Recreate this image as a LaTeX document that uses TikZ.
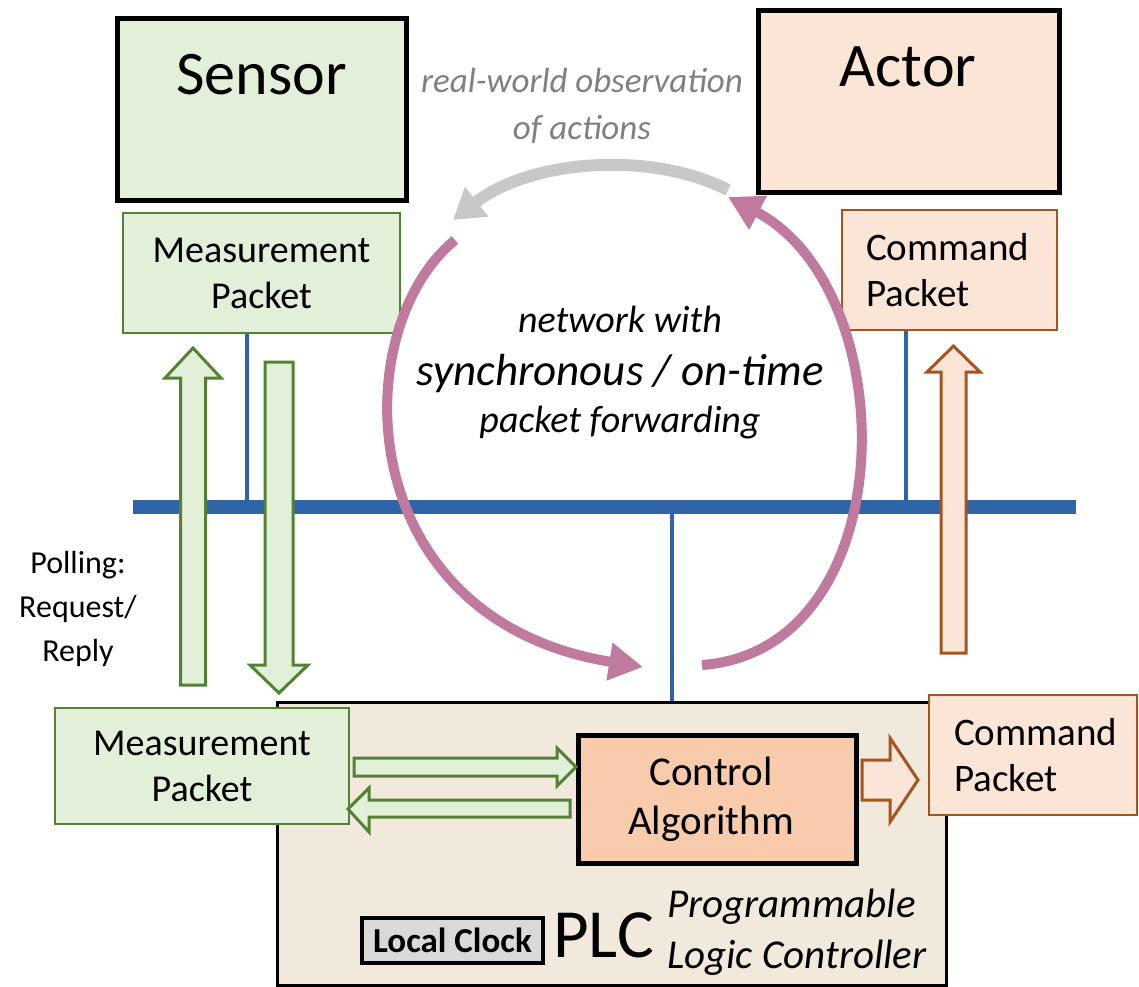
\documentclass[tikz,border=0pt]{standalone}
\usepackage{fontspec}
\setmainfont{Carlito}
\usetikzlibrary{arrows.meta}
\definecolor{busblue}{RGB}{47,100,168}
\definecolor{gfill}{RGB}{226,239,217}
\definecolor{gline}{RGB}{84,130,53}
\definecolor{ofill}{RGB}{251,229,214}
\definecolor{oline}{RGB}{166,84,30}
\definecolor{plcfill}{RGB}{242,233,221}
\definecolor{cafill}{RGB}{248,203,173}
\definecolor{loopink}{RGB}{192,122,158}
\definecolor{lgray}{RGB}{200,200,200}
\definecolor{tgray}{RGB}{128,128,128}
\definecolor{clockfill}{RGB}{217,217,217}
\newcommand\myfs[2]{\fontsize{#1}{#2}\selectfont}
\begin{document}
\begin{tikzpicture}[x=1pt,y=-1pt,
  bigbox/.style={draw=black,line width=5pt,inner sep=0pt},
  gpkt/.style={draw=gline,fill=gfill,line width=2pt,inner sep=0pt,align=center,font={\myfs{38}{46}}},
  opkt/.style={draw=oline,fill=ofill,line width=2pt,inner ysep=0pt,align=left,font={\myfs{39}{46}}},
  gblock/.style={draw=gline,fill=gfill,line width=3pt},
  oblock/.style={draw=oline,fill=ofill,line width=3pt},
  tap/.style={draw=busblue,line width=4pt},
  loopline/.style={draw=loopink,line width=10pt,-{Triangle[length=34pt,width=36pt]}}]
\useasboundingbox (0,0) rectangle (1139,986);
\fill[white] (0,0) rectangle (1139,986);

% PLC
\node[draw=black,line width=3pt,fill=plcfill,minimum width=669pt,minimum height=283pt,inner sep=0pt] (plc) at (611.5,843.5) {};

% bus and taps
\coordinate (busL) at (133,507);
\coordinate (busR) at (1076,507);
\coordinate (tapm) at (247,507);
\coordinate (tapc) at (906,507);
\coordinate (tapp) at (672,507);

% boxes
\node[bigbox,fill=gfill,minimum width=289pt,minimum height=182pt] (sensor) at (261.5,109) {};
\node[bigbox,fill=ofill,minimum width=301pt,minimum height=182pt] (actor) at (908.5,101) {};
\node[gpkt,minimum width=277pt,minimum height=120pt] (mtop) at (261.5,273) {Measurement\\Packet};
\node[opkt,inner xsep=24pt,text width=167pt,minimum height=120pt] (ctop) at (949.5,270) {Command\\Packet};
\node[gpkt,minimum width=294pt,minimum height=116pt] (mbot) at (202,766) {Measurement\\Packet};
\node[opkt,inner xsep=25pt,text width=158pt,minimum height=120pt] (cbot) at (1033,755) {Command\\Packet};
\node[bigbox,fill=cafill,minimum width=278pt,minimum height=128pt,align=center,font={\myfs{41}{49}}] (ctrl) at (717,799) {Control\hspace*{12pt}\\Algorithm\hspace*{12pt}};
\node[draw=black,line width=4pt,fill=clockfill,minimum width=181pt,minimum height=45pt,inner sep=0pt,font={\bfseries\myfs{35}{36}}] (clock) at (452.5,940.5) {Local Clock};

\draw[tap] (tapm |- mtop.south) -- (tapm);
\draw[tap] (tapc |- ctop.south) -- (tapc);
\draw[tap] (tapp) -- (tapp |- plc.north);
\draw[busblue,line width=14pt] (busL) -- (busR);

% block arrows
\draw[gblock] (180.5,685) -- (180.5,378) -- (165,378) -- (193,348) -- (221,378) -- (205.5,378) -- (205.5,685) -- cycle;
\draw[gblock] (265,362) -- (293,362) -- (293,665) -- (308,665) -- (279,693) -- (250,665) -- (265,665) -- cycle;
\draw[oblock] (941,653) -- (941,372) -- (927,372) -- (953.5,346) -- (980,372) -- (966,372) -- (966,653) -- cycle;
\draw[gblock] (354,758) -- (557,758) -- (557,748) -- (576,767) -- (557,786) -- (557,776) -- (354,776) -- cycle;
\draw[gblock] (570,800) -- (369,800) -- (369,788) -- (348,809) -- (369,832) -- (369,817) -- (570,817) -- cycle;
\draw[oblock] (862,760) -- (890,760) -- (890,738) -- (918,780) -- (890,822) -- (890,800) -- (862,800) -- cycle;

% loops
\coordinate (pl0) at (455,240);
\coordinate (pl1) at (643,667);
\coordinate (pr0) at (702,665);
\coordinate (pr1) at (728,197);
\coordinate (g0) at (728,190);
\coordinate (g1) at (453,220);
\draw[loopline] (pl0) .. controls (345,330) and (350,620) .. (pl1);
\draw[loopline] (pr0) .. controls (905,650) and (905,290) .. (pr1);
\draw[lgray,line width=12pt,-{Triangle[length=30pt,width=36pt]}] (g0) .. controls (650,150) and (530,160) .. (g1);

% texts
\node[font={\myfs{62}{70}}] (sensorlbl) at (261.5,75) {Sensor};
\node[font={\myfs{62}{70}}] (actorlbl) at (908,67) {Actor};
\node[align=center,text=tgray,font={\itshape\myfs{35}{47}}] (obs) at (582,106) {real-world observation\\of actions};
\node[align=center,font={\myfs{32}{44}}] (poll) at (78,609) {Polling:\\Request/\\Reply};
\node[anchor=base,font={\itshape\myfs{38}{44}}] (net1) at (620,332) {network with};
\node[anchor=base,font={\itshape\myfs{45}{50}}] (net2) at (620,385) {synchronous / on-time};
\node[anchor=base,font={\itshape\myfs{38}{44}}] (net3) at (620,432) {packet forwarding};
\node[anchor=base west,inner sep=0pt,font={\myfs{69}{70}}] (plclbl) at (553,957) {PLC};
\node[anchor=base west,inner sep=0pt,font={\itshape\myfs{41}{44}}] (prog) at (667,917) {Programmable};
\node[anchor=base west,inner sep=0pt,font={\itshape\myfs{41}{44}}] (logic) at (667,968) {Logic Controller};
\end{tikzpicture}
\end{document}
